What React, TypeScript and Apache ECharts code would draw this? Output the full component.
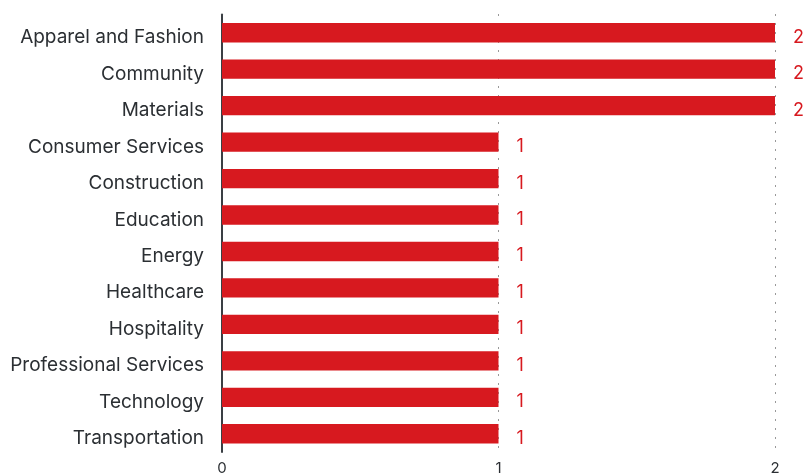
import React, { useEffect, useRef } from "react";
import * as echarts from "echarts";

const categories = [
  "Apparel and Fashion",
  "Community",
  "Materials",
  "Consumer Services",
  "Construction",
  "Education",
  "Energy",
  "Healthcare",
  "Hospitality",
  "Professional Services",
  "Technology",
  "Transportation",
];
const values = [2, 2, 2, 1, 1, 1, 1, 1, 1, 1, 1, 1];
const tickValues = [0, 1, 2];

export default function App() {
  const ref = useRef<HTMLDivElement>(null);
  useEffect(() => {
    if (!ref.current) return;
    const chart = echarts.init(ref.current, null, { renderer: "svg" });
    chart.setOption({
      animation: false,
      grid: { left: 222, right: 29, top: 14.5, bottom: 17.5, containLabel: false },
      xAxis: {
        type: "value",
        min: 0,
        max: 2,
        interval: 1,
        axisLine: { show: false },
        axisTick: { show: false },
        axisLabel: {
          color: "#2b2f33",
          fontFamily: "Inter",
          fontSize: 15,
          margin: 8,
          formatter: (v: number) => (tickValues.includes(v) ? String(v) : ""),
        },
        splitLine: {
          show: true,
          lineStyle: { color: "#333", type: [1, 8], width: 1 },
        },
      },
      yAxis: {
        type: "category",
        data: categories,
        inverse: true,
        axisLine: { show: true, lineStyle: { color: "#3a3f44", width: 2 } },
        axisTick: { show: false },
        axisLabel: {
          color: "#2b2f33",
          fontFamily: "Inter",
          fontSize: 19,
          margin: 18,
          verticalAlign: "top",
          lineHeight: 8,
        },
      },
      series: [
        {
          type: "bar",
          data: values,
          barWidth: "53%",
          itemStyle: { color: "#d7191f" },
          label: {
            show: true,
            position: "right",
            distance: 18,
            color: "#d7191f",
            fontFamily: "Inter",
            fontSize: 18,
            verticalAlign: "top",
            lineHeight: 7,
          },
        },
      ],
    });
    return () => chart.dispose();
  }, []);
  return (
    <div
      ref={ref}
      style={{ position: "fixed", left: 0, top: 0, width: 804, height: 475 }}
    />
  );
}
